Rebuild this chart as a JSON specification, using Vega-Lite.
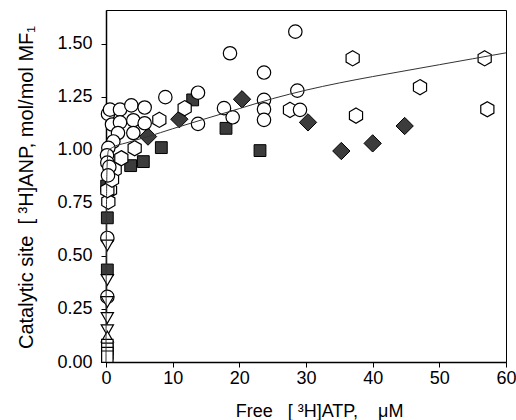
{
  "$schema": "https://vega.github.io/schema/vega-lite/v6.json",
  "width": 400,
  "height": 352,
  "autosize": {"type": "none"},
  "padding": {"left": 106, "top": 10, "right": 10, "bottom": 58},
  "config": {
    "view": {"stroke": "black", "strokeWidth": 1},
    "font": "Liberation Sans",
    "axis": {"grid": false, "domainColor": "black", "domainWidth": 1.5, "tickColor": "black", "tickWidth": 1, "tickOpacity": 1, "labelColor": "black", "titleColor": "black", "labelFont": "Liberation Sans", "titleFont": "Liberation Sans", "titleFontWeight": "normal", "labelFlush": false, "labelOverlap": false, "labelBound": false, "zindex": 1}
  },
  "data": {
    "values": [
      {"series": "circle", "x": 28.4, "y": 1.558},
      {"series": "circle", "x": 18.6, "y": 1.456},
      {"series": "circle", "x": 23.7, "y": 1.365},
      {"series": "circle", "x": 8.9, "y": 1.249},
      {"series": "circle", "x": 13.8, "y": 1.27},
      {"series": "circle", "x": 28.7, "y": 1.28},
      {"series": "circle", "x": 23.7, "y": 1.236},
      {"series": "circle", "x": 23.7, "y": 1.192},
      {"series": "circle", "x": 23.7, "y": 1.142},
      {"series": "circle", "x": 17.7, "y": 1.197},
      {"series": "circle", "x": 19.0, "y": 1.154},
      {"series": "circle", "x": 13.8, "y": 1.123},
      {"series": "circle", "x": 29.1, "y": 1.189},
      {"series": "circle", "x": 0.3, "y": 1.17},
      {"series": "circle", "x": 0.6, "y": 1.19},
      {"series": "circle", "x": 2.1, "y": 1.19},
      {"series": "circle", "x": 3.8, "y": 1.21},
      {"series": "circle", "x": 5.8, "y": 1.2},
      {"series": "circle", "x": 0.9, "y": 1.12},
      {"series": "circle", "x": 2.1, "y": 1.13},
      {"series": "circle", "x": 4.1, "y": 1.14},
      {"series": "circle", "x": 5.8, "y": 1.126},
      {"series": "circle", "x": 1.8, "y": 1.08},
      {"series": "circle", "x": 4.1, "y": 1.08},
      {"series": "circle", "x": 1.1, "y": 1.04},
      {"series": "circle", "x": 0.35, "y": 1.01},
      {"series": "circle", "x": 0.15, "y": 0.975},
      {"series": "circle", "x": 0.2, "y": 0.94},
      {"series": "circle", "x": 0.5, "y": 0.92},
      {"series": "circle", "x": 0.3, "y": 0.88},
      {"series": "circle", "x": 0.2, "y": 0.585},
      {"series": "circle", "x": 0.2, "y": 0.307},
      {"series": "hexagon", "x": 37.0, "y": 1.432},
      {"series": "hexagon", "x": 56.8, "y": 1.432},
      {"series": "hexagon", "x": 47.1, "y": 1.296},
      {"series": "hexagon", "x": 37.5, "y": 1.162},
      {"series": "hexagon", "x": 57.2, "y": 1.192},
      {"series": "hexagon", "x": 11.8, "y": 1.197},
      {"series": "hexagon", "x": 27.6, "y": 1.189},
      {"series": "hexagon", "x": 8.0, "y": 1.142},
      {"series": "hexagon", "x": 4.3, "y": 1.008},
      {"series": "hexagon", "x": 2.3, "y": 0.961},
      {"series": "hexagon", "x": 1.3, "y": 0.906},
      {"series": "hexagon", "x": 0.6, "y": 0.811},
      {"series": "hexagon", "x": 0.35, "y": 0.756},
      {"series": "hexagon", "x": 0.2, "y": 0.81},
      {"series": "hexagon", "x": 0.9, "y": 0.86},
      {"series": "square", "x": 13.0, "y": 1.236},
      {"series": "square", "x": 8.3, "y": 1.011},
      {"series": "square", "x": 5.6, "y": 0.945},
      {"series": "square", "x": 3.7, "y": 0.926},
      {"series": "square", "x": 18.0, "y": 1.102},
      {"series": "square", "x": 23.1, "y": 0.997},
      {"series": "square", "x": 0.1, "y": 0.83},
      {"series": "square", "x": 0.2, "y": 0.68},
      {"series": "square", "x": 0.2, "y": 0.434},
      {"series": "diamond", "x": 6.3, "y": 1.063},
      {"series": "diamond", "x": 11.0, "y": 1.145},
      {"series": "diamond", "x": 20.4, "y": 1.239},
      {"series": "diamond", "x": 30.3, "y": 1.13},
      {"series": "diamond", "x": 35.3, "y": 0.995},
      {"series": "diamond", "x": 40.0, "y": 1.031},
      {"series": "diamond", "x": 44.8, "y": 1.113},
      {"series": "tridown", "x": 0.2, "y": 0.55},
      {"series": "tridown", "x": 0.2, "y": 0.387},
      {"series": "tridown", "x": 0.2, "y": 0.283},
      {"series": "tridown", "x": 0.2, "y": 0.208},
      {"series": "tridown", "x": 0.2, "y": 0.15},
      {"series": "triup", "x": 0.2, "y": 0.12},
      {"series": "opensq", "x": 0.2, "y": 0.08},
      {"series": "opensq", "x": 0.2, "y": 0.062},
      {"series": "opensq", "x": 0.2, "y": 0.042},
      {"series": "opensq", "x": 0.2, "y": 0.025},
      {"series": "fit", "x": 0, "y": 0},
      {"series": "fit", "x": 0.02, "y": 0.3},
      {"series": "fit", "x": 0.05, "y": 0.6},
      {"series": "fit", "x": 0.1, "y": 0.82},
      {"series": "fit", "x": 0.2, "y": 0.95},
      {"series": "fit", "x": 0.35, "y": 0.995},
      {"series": "fit", "x": 1, "y": 1.012},
      {"series": "fit", "x": 3, "y": 1.033},
      {"series": "fit", "x": 6.3, "y": 1.063},
      {"series": "fit", "x": 10, "y": 1.1},
      {"series": "fit", "x": 15, "y": 1.148},
      {"series": "fit", "x": 20, "y": 1.195},
      {"series": "fit", "x": 25, "y": 1.242},
      {"series": "fit", "x": 30, "y": 1.282},
      {"series": "fit", "x": 35, "y": 1.316},
      {"series": "fit", "x": 40, "y": 1.346},
      {"series": "fit", "x": 45, "y": 1.374},
      {"series": "fit", "x": 50, "y": 1.402},
      {"series": "fit", "x": 55, "y": 1.43},
      {"series": "fit", "x": 60, "y": 1.458}
    ]
  },
  "layer": [
    {
      "transform": [{"filter": "datum.series === 'square'"}],
      "mark": {"type": "point", "shape": "square", "filled": true, "fill": "#3c3c3c", "stroke": "black", "strokeWidth": 1, "size": 140, "opacity": 1},
      "encoding": {
        "x": {"field": "x", "type": "quantitative", "scale": {"domain": [0, 60], "nice": false, "zero": false},
          "axis": {"orient": "bottom", "values": [0, 10, 20, 30, 40, 50, 60],
            "ticks": true, "tickSize": 5,
            "labelPadding": 2, "labelFontSize": 18,
            "title": "Free\u00a0\u00a0\u00a0[\u00a0³H]ATP,\u00a0\u00a0\u00a0\u00a0μM", "titleFontSize": 18, "titleX": 213, "titleY": 54, "titleBaseline": "alphabetic", "titleAnchor": "middle", "titleAlign": "center"}},
        "y": {"field": "y", "type": "quantitative", "scale": {"domain": [0, 1.66], "nice": false, "zero": false},
          "axis": {"orient": "left", "values": [0, 0.25, 0.5, 0.75, 1, 1.25, 1.5],
            "format": ".2f",
            "ticks": true, "tickSize": 5,
            "labelPadding": 9, "labelFontSize": 18,
            "title": "Catalytic site\u00a0\u00a0[\u00a0³H]ANP, mol/mol MF₁", "titleFontSize": 20, "titleX": -74, "titleY": 177, "titleBaseline": "alphabetic", "titleAngle": -90, "titleAlign": "center", "titleAnchor": "middle"}}
      }
    },
    {
      "transform": [{"filter": "datum.series === 'diamond'"}],
      "mark": {"type": "point", "shape": "diamond", "filled": true, "fill": "#3c3c3c", "stroke": "black", "strokeWidth": 1, "size": 300, "opacity": 1},
      "encoding": {
        "x": {"field": "x", "type": "quantitative", "scale": {"domain": [0, 60], "nice": false, "zero": false}, "axis": null},
        "y": {"field": "y", "type": "quantitative", "scale": {"domain": [0, 1.66], "nice": false, "zero": false}, "axis": null}
      }
    },
    {
      "transform": [{"filter": "datum.series === 'hexagon'"}],
      "mark": {"type": "point", "shape": "M0,-1L0.866,-0.5L0.866,0.5L0,1L-0.866,0.5L-0.866,-0.5Z", "filled": true, "fill": "white", "stroke": "black", "strokeWidth": 1.2, "size": 230, "opacity": 1},
      "encoding": {
        "x": {"field": "x", "type": "quantitative", "scale": {"domain": [0, 60], "nice": false, "zero": false}, "axis": null},
        "y": {"field": "y", "type": "quantitative", "scale": {"domain": [0, 1.66], "nice": false, "zero": false}, "axis": null}
      }
    },
    {
      "transform": [{"filter": "datum.series === 'circle'"}],
      "mark": {"type": "point", "shape": "circle", "filled": true, "fill": "white", "stroke": "black", "strokeWidth": 1.2, "size": 180, "opacity": 1},
      "encoding": {
        "x": {"field": "x", "type": "quantitative", "scale": {"domain": [0, 60], "nice": false, "zero": false}, "axis": null},
        "y": {"field": "y", "type": "quantitative", "scale": {"domain": [0, 1.66], "nice": false, "zero": false}, "axis": null}
      }
    },
    {
      "transform": [{"filter": "datum.series === 'tridown'"}],
      "mark": {"type": "point", "shape": "triangle-down", "filled": true, "fill": "white", "stroke": "black", "strokeWidth": 1.2, "size": 150, "opacity": 1},
      "encoding": {
        "x": {"field": "x", "type": "quantitative", "scale": {"domain": [0, 60], "nice": false, "zero": false}, "axis": null},
        "y": {"field": "y", "type": "quantitative", "scale": {"domain": [0, 1.66], "nice": false, "zero": false}, "axis": null}
      }
    },
    {
      "transform": [{"filter": "datum.series === 'triup'"}],
      "mark": {"type": "point", "shape": "triangle-up", "filled": true, "fill": "white", "stroke": "black", "strokeWidth": 1.2, "size": 150, "opacity": 1},
      "encoding": {
        "x": {"field": "x", "type": "quantitative", "scale": {"domain": [0, 60], "nice": false, "zero": false}, "axis": null},
        "y": {"field": "y", "type": "quantitative", "scale": {"domain": [0, 1.66], "nice": false, "zero": false}, "axis": null}
      }
    },
    {
      "transform": [{"filter": "datum.series === 'opensq'"}],
      "mark": {"type": "point", "shape": "square", "filled": true, "fill": "white", "stroke": "black", "strokeWidth": 1.2, "size": 130, "opacity": 1},
      "encoding": {
        "x": {"field": "x", "type": "quantitative", "scale": {"domain": [0, 60], "nice": false, "zero": false}, "axis": null},
        "y": {"field": "y", "type": "quantitative", "scale": {"domain": [0, 1.66], "nice": false, "zero": false}, "axis": null}
      }
    },
    {
      "transform": [{"filter": "datum.series === 'fit'"}],
      "mark": {"type": "line", "color": "#333333", "strokeWidth": 1, "interpolate": "monotone"},
      "encoding": {
        "x": {"field": "x", "type": "quantitative", "scale": {"domain": [0, 60], "nice": false, "zero": false}, "axis": null},
        "y": {"field": "y", "type": "quantitative", "scale": {"domain": [0, 1.66], "nice": false, "zero": false}, "axis": null}
      }
    }
  ],
  "resolve": {"scale": {"x": "independent", "y": "independent"}, "axis": {"x": "independent", "y": "independent"}}
}
